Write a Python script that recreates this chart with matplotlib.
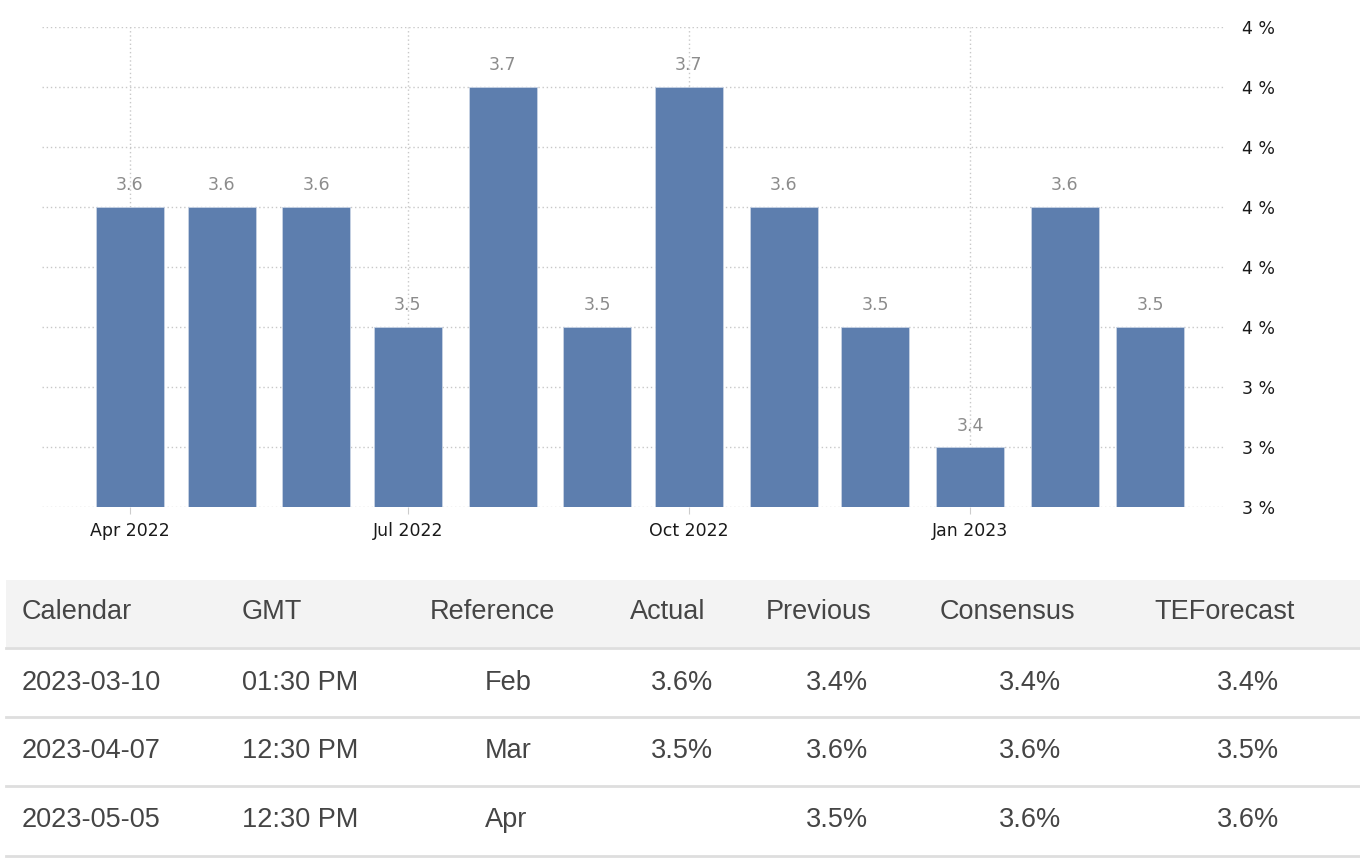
import matplotlib
matplotlib.use("Agg")
import matplotlib.pyplot as plt
import matplotlib.dates as mdates
from matplotlib.ticker import FuncFormatter, FixedLocator
from matplotlib.patches import Rectangle
from matplotlib.lines import Line2D
import numpy as np
import datetime as dt

plt.rcParams["font.family"] = ["DejaVu Sans"]

# ---------------- data ----------------
months = ["2022-04-01", "2022-05-01", "2022-06-01", "2022-07-01", "2022-08-01", "2022-09-01",
          "2022-10-01", "2022-11-01", "2022-12-01", "2023-01-01", "2023-02-01", "2023-03-01"]
values = [3.6, 3.6, 3.6, 3.5, 3.7, 3.5, 3.7, 3.6, 3.5, 3.4, 3.6, 3.5]
xtick_dates = ["2022-04-01", "2022-07-01", "2022-10-01", "2023-01-01"]
xtick_labels = ["Apr 2022", "Jul 2022", "Oct 2022", "Jan 2023"]
ytick_values = [3.35, 3.40, 3.45, 3.50, 3.55, 3.60, 3.65, 3.70, 3.75]

table_headers = ["Calendar", "GMT", "Reference", "Actual", "Previous", "Consensus", "TEForecast"]
calendar = ["2023-03-10", "2023-04-07", "2023-05-05"]
gmt = ["01:30 PM", "12:30 PM", "12:30 PM"]
reference = ["Feb", "Mar", "Apr"]
actual = ["3.6%", "3.5%", ""]
previous = ["3.4%", "3.6%", "3.5%"]
consensus = ["3.4%", "3.6%", "3.6%"]
teforecast = ["3.4%", "3.5%", "3.6%"]

# ---------------- figure ----------------
W, H = 1360, 860
fig = plt.figure(figsize=(W / 100, H / 100), dpi=100)
fig.patch.set_facecolor("white")

def px_rect(l, t, r, b):
    return [l / W, 1 - b / H, (r - l) / W, (b - t) / H]

ax = fig.add_axes(px_rect(42, 27, 1225, 507))

x = [mdates.date2num(dt.datetime.strptime(m, "%Y-%m-%d")) for m in months]
bar_color = "#5d7eae"
ax.bar(x, values, width=22.3, color=bar_color, edgecolor="#c8d3e4", linewidth=0.6, zorder=3)

for xi, v in zip(x, values):
    ax.annotate(f"{v:.1f}", xy=(xi, v), xytext=(0, 9), textcoords="offset points",
                ha="center", va="bottom", fontsize=12.5, color="#8c8c8c", zorder=4)

ax.set_xlim(mdates.date2num(dt.datetime(2022, 3, 3, 5)), mdates.date2num(dt.datetime(2023, 3, 25, 12)))
ax.set_ylim(ytick_values[0], ytick_values[-1])

xt = [mdates.date2num(dt.datetime.strptime(d, "%Y-%m-%d")) for d in xtick_dates]
ax.xaxis.set_major_locator(FixedLocator(xt))
ax.set_xticklabels(xtick_labels)
ax.yaxis.set_major_locator(FixedLocator(ytick_values))
ax.yaxis.set_major_formatter(FuncFormatter(lambda v, p: f"{int(np.floor(v + 0.5 + 1e-6))} %"))
ax.yaxis.tick_right()

ax.tick_params(axis="y", length=0, pad=12, labelsize=12.5, labelcolor="#1a1a1a")
ax.tick_params(axis="x", length=5, width=0.8, color="#cccccc", pad=6, labelsize=12.5,
               labelcolor="#1a1a1a")

ax.grid(True, axis="both", color="#c8c8c8", linestyle=(0, (1, 2)), linewidth=1, zorder=0)
for s in ax.spines.values():
    s.set_visible(False)
ax.set_facecolor("white")

# ---------------- table ----------------
fig.patches.append(Rectangle((6 / W, 1 - 647 / H), (W - 6) / W, (647 - 580) / H,
                             transform=fig.transFigure, facecolor="#f3f3f3",
                             edgecolor="none", zorder=0))
for yl in [648, 717, 786, 856]:
    fig.lines.append(Line2D([6 / W, 1], [1 - yl / H, 1 - yl / H], transform=fig.transFigure,
                            color="#dedede", linewidth=2))

tfont = dict(family="Liberation Sans", fontsize=19.5, color="#454545", va="center")
header_x = [22, 242, 430, 630, 766, 940, 1154]
header_y = 612
for hx, ht in zip(header_x, table_headers):
    fig.text(hx / W, 1 - header_y / H, ht, ha="left", **tfont)

row_y = [683, 751, 820]
cols = [
    (calendar, 22, "left"),
    (gmt, 242, "left"),
    (reference, 485, "left"),
    (actual, 713, "right"),
    (previous, 868, "right"),
    (consensus, 1061, "right"),
    (teforecast, 1279, "right"),
]
for data, cx, align in cols:
    for ry, val in zip(row_y, data):
        if val:
            fig.text(cx / W, 1 - ry / H, val, ha=align, **tfont)

fig.savefig("out.png", dpi=100, facecolor="white")
